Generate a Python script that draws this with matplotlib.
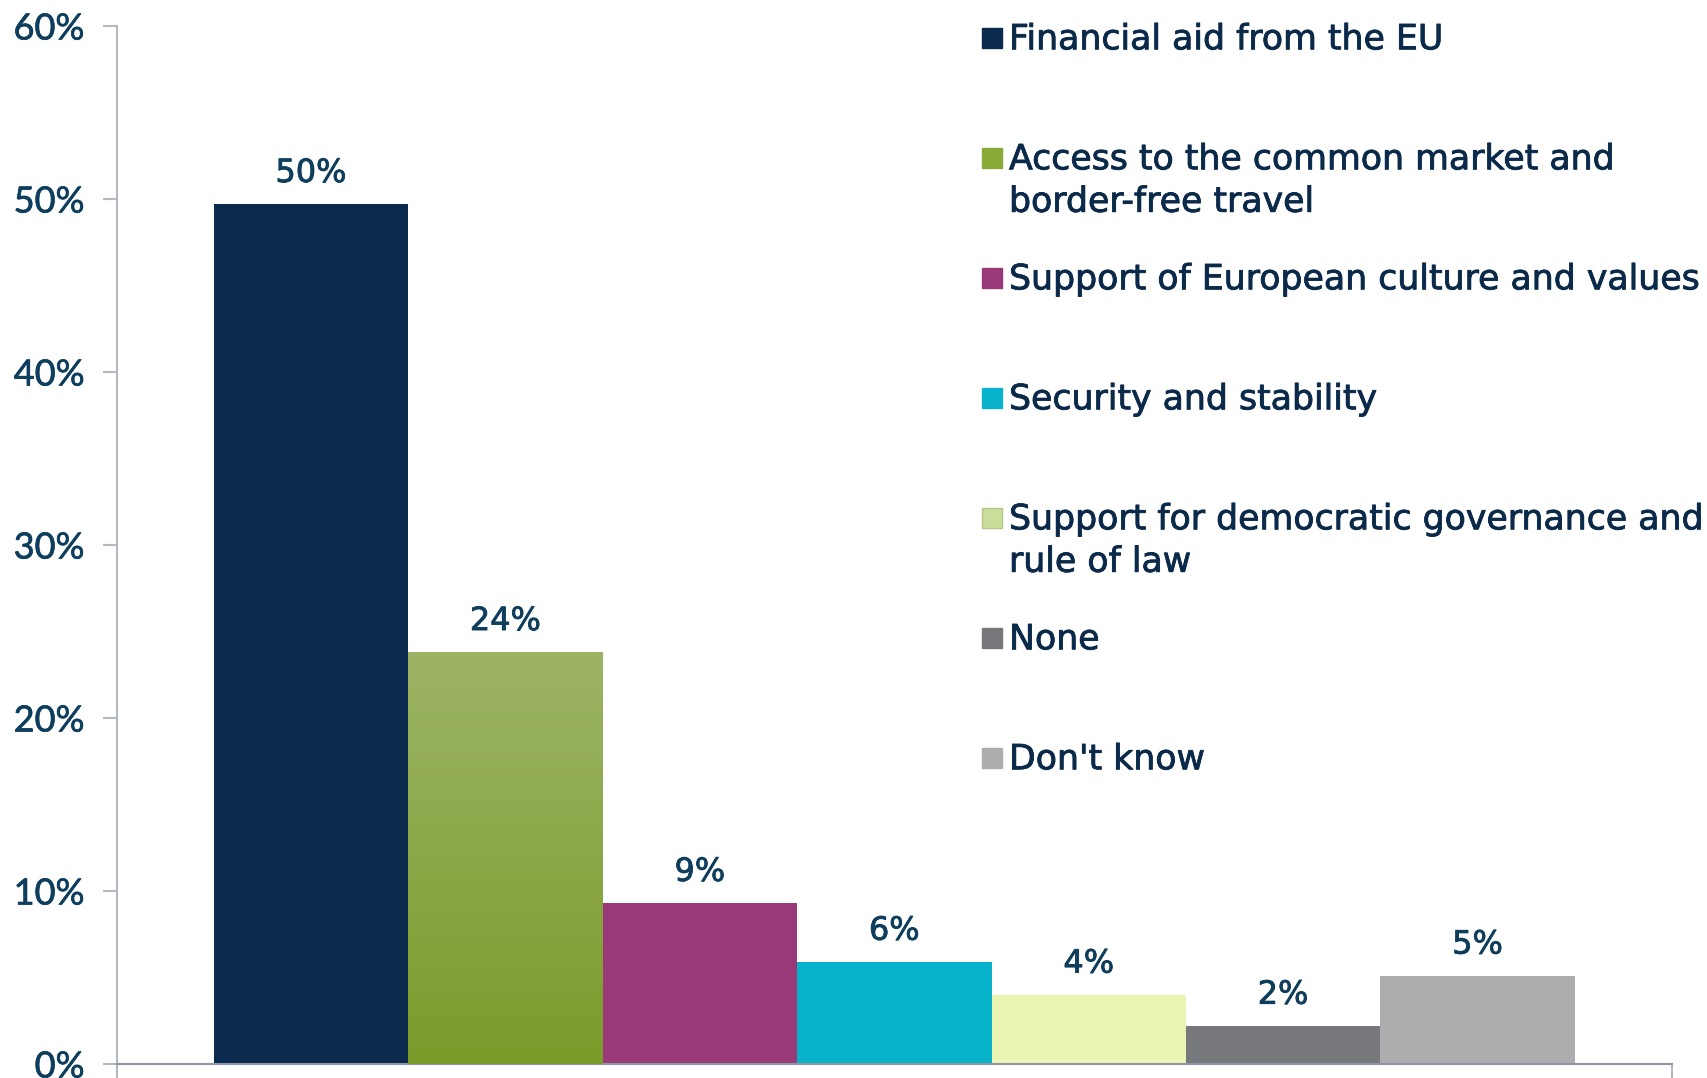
import numpy as np
import matplotlib
matplotlib.use('Agg')
import matplotlib.pyplot as plt
import matplotlib.patheffects as pe
from matplotlib.colors import LinearSegmentedColormap
from matplotlib.patches import Rectangle

# Données
categories = ['Financial aid from the EU',
              'Access to the common market and\nborder-free travel',
              'Support of European culture and values',
              'Security and stability',
              'Support for democratic governance and\nrule of law',
              'None',
              "Don't know"]
values = [49.7, 23.8, 9.3, 5.9, 4.0, 2.2, 5.1]
value_labels = ['50%', '24%', '9%', '6%', '4%', '2%', '5%']
yticks = [0, 10, 20, 30, 40, 50, 60]
ytick_labels = ['0%', '10%', '20%', '30%', '40%', '50%', '60%']

bar_colors = ['#0A2B4E', '#8AA838', '#983A78', '#09B2CB', '#EAF5B4', '#77787C', '#ADADAF']
legend_colors = ['#0A2B4E', '#8AAA38', '#983A78', '#09B2CB', '#C9DE98', '#77787C', '#ADADAF']

W, H = 1708, 1078
fig = plt.figure(figsize=(W / 100, H / 100), dpi=100)
ax = fig.add_axes([116.6 / W, 14 / H, (1672 - 116.6) / W, (1064 - 26) / H])

x = np.arange(1, len(values) + 1)
bars = ax.bar(x, values, width=1.0, color=bar_colors, linewidth=0, zorder=2)

# dégradé vertical sur la barre verte
grad = LinearSegmentedColormap.from_list('vert', ['#7B9B2A', '#9DB466'])
b = bars[1]
im = ax.imshow(np.linspace(0, 1, 256).reshape(-1, 1), cmap=grad, origin='lower',
               aspect='auto', zorder=3,
               extent=[b.get_x(), b.get_x() + b.get_width(), 0, b.get_height()])
im.set_clip_path(b)

# texte un peu plus gras (rendu type Tahoma)
epais = lambda c, lw=0.6: [pe.withStroke(linewidth=lw, foreground=c)]

# étiquettes de valeurs
for xi, v, lbl in zip(x, values, value_labels):
    ax.annotate(lbl, (xi, v), xytext=(0, 16), textcoords='offset points',
                ha='center', va='baseline', fontsize=23, color='#0F3D5C',
                family='DejaVu Sans', path_effects=epais('#0F3D5C'))

ax.set_xlim(0, len(values) + 1)
ax.set_ylim(0, 60)
ax.set_yticks(yticks)
ax.set_yticklabels(ytick_labels, fontsize=26, color='#0E3E5E', family='Lato')
for t in ax.get_yticklabels():
    t.set_path_effects(epais('#0E3E5E', 0.5))
ax.set_xticks([0, len(values) + 1])
ax.set_xticklabels(['', ''])
ax.tick_params(axis='y', direction='out', length=10, width=1.5, color='#B4B8C0', pad=13)
ax.tick_params(axis='x', direction='out', length=10, width=1.5, color='#B4B8C0')
for s in ['top', 'right']:
    ax.spines[s].set_visible(False)
ax.spines['left'].set_color('#B4B8C0')
ax.spines['left'].set_linewidth(1.5)
ax.spines['bottom'].set_color('#8E96A6')
ax.spines['bottom'].set_linewidth(1.5)

# légende dessinée à la main (le carré aligné sur la première ligne)
for k, (lab, col) in enumerate(zip(categories, legend_colors)):
    base = 49.3 + 120 * k
    for j, line in enumerate(lab.split('\n')):
        fig.text(1009 / W, 1 - (base + j * 42.5) / H, line, fontsize=25,
                 color='#0B2A4A', ha='left', va='baseline', family='DejaVu Sans',
                 path_effects=epais('#0B2A4A'))
    fig.patches.append(Rectangle((982 / W, 1 - (base - 1) / H), 20 / W, 20 / H,
                                 transform=fig.transFigure, facecolor=col,
                                 edgecolor='#B5C48A' if k == 4 else col, linewidth=1))

fig.savefig('out.png', dpi=100)
